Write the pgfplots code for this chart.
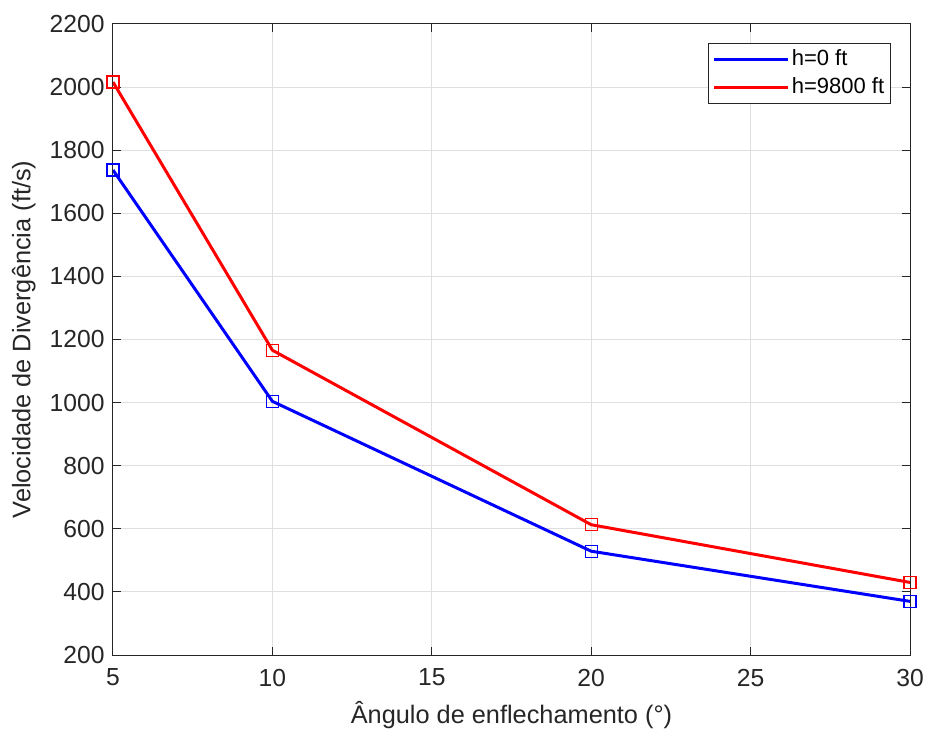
\documentclass[border=0pt]{standalone}
\usepackage{fontspec}
\setmainfont{Liberation Sans}
\usepackage{pgfplots}
\pgfplotsset{compat=1.18}
\definecolor{axgray}{RGB}{38,38,38}
\definecolor{gridgray}{RGB}{223,223,223}
\begin{document}
\fontsize{18.5}{22}\selectfont
\begin{tikzpicture}
\begin{axis}[
  scale only axis,
  width=597.75pt, height=473.25pt,
  xmin=5, xmax=30, ymin=200, ymax=2200,
  xtick={5,10,15,20,25,30},
  ytick={200,400,...,2200},
  grid=major,
  major grid style={gridgray, line width=0.75pt},
  axis line style={axgray, line width=0.75pt},
  tick style={axgray, line width=0.75pt},
  tick align=inside,
  major tick length=6pt,
  tick label style={font=\fontsize{18.5}{22}\selectfont, text=axgray},
  xticklabel style={yshift=-4pt},
  /pgf/number format/assume math mode=true,
  /pgf/number format/1000 sep={},
  xlabel={Ângulo de enflechamento (°)},
  ylabel={Velocidade de Divergência (ft/s)},
  label style={font=\fontsize{19}{22}\selectfont, text=axgray},
  xlabel style={yshift=1pt},
  ylabel style={yshift=-2pt},
  legend style={at={(rel axis cs:1,1)}, anchor=north east, xshift=-14pt, yshift=-14pt,
    font=\fontsize{16.5}{20}\selectfont, draw=axgray, line width=0.75pt, inner sep=3pt,
    row sep=2pt, cells={anchor=west}},
  legend image code/.code={\draw[#1, mark=none] (0cm,0cm) -- (55pt,0cm);},
]
\addplot[blue, line width=2.25pt, mark=square, mark size=4.5pt, mark options={line width=0.9pt, solid, draw=blue}]
  coordinates {(5,1737) (10,1004) (20,529) (30,370)};
\addlegendentry{h=0 ft}
\addplot[red, line width=2.25pt, mark=square, mark size=4.5pt, mark options={line width=0.9pt, solid, draw=red}]
  coordinates {(5,2016) (10,1166) (20,613) (30,430)};
\addlegendentry{h=9800 ft}
\coordinate (sw) at (rel axis cs:0,0);
\coordinate (ne) at (rel axis cs:1,1);
\end{axis}
\pgfresetboundingbox
\path ([shift={(-84.75pt,-58pt)}]sw) rectangle ([shift={(13.5pt,18pt)}]ne);
\end{tikzpicture}
\end{document}
